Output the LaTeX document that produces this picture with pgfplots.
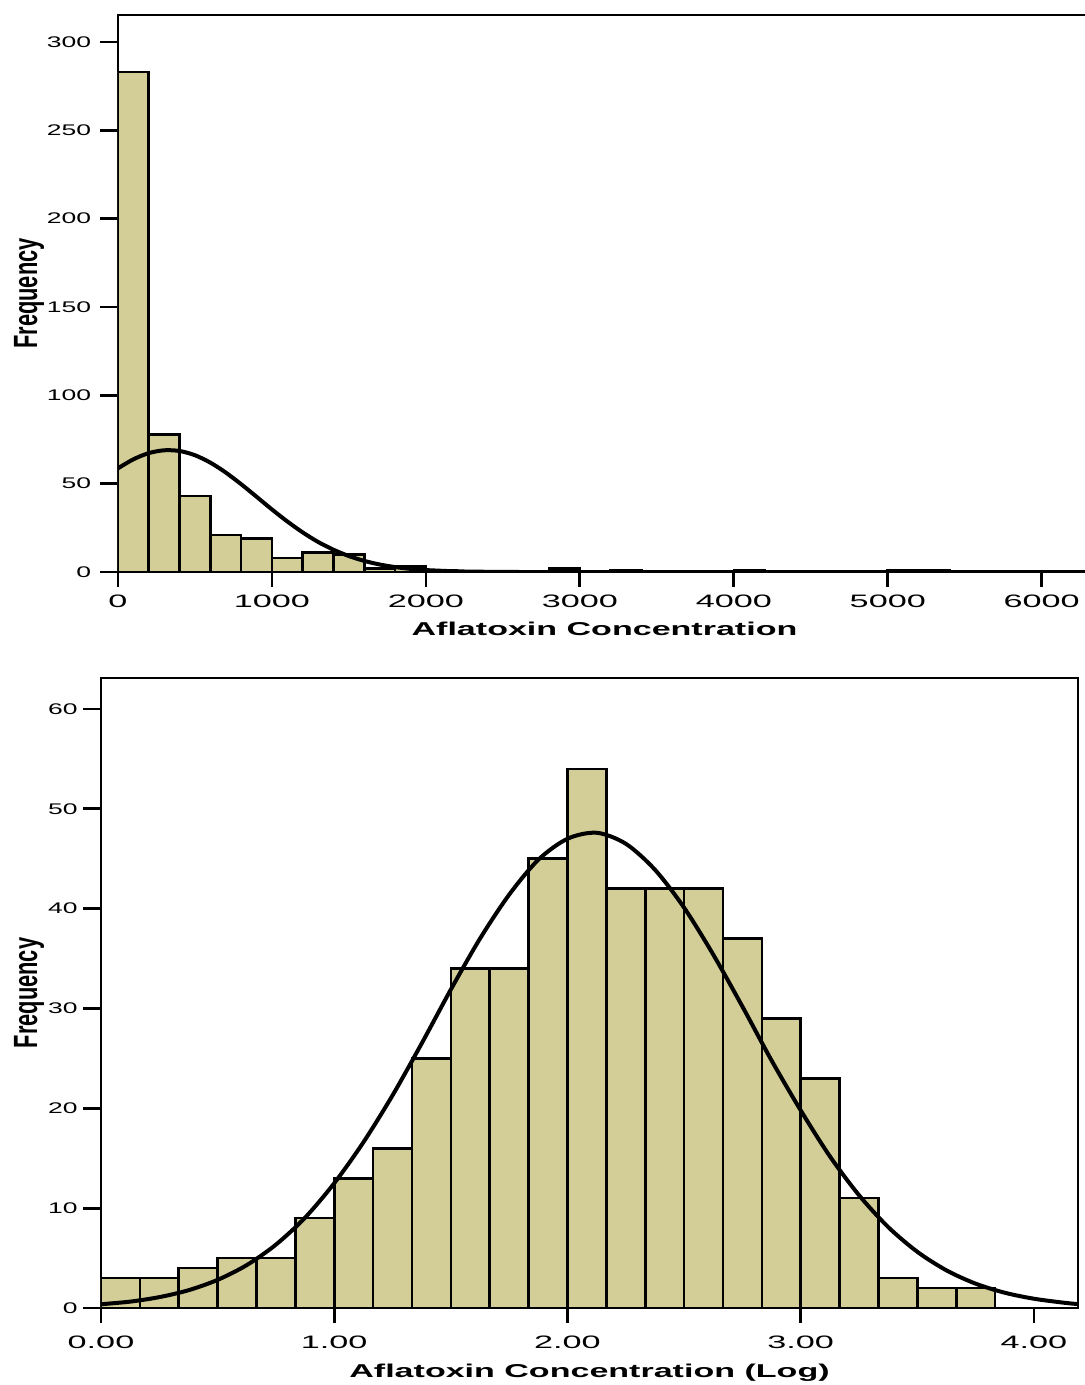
\documentclass[border=0pt]{standalone}
\usepackage{pgfplots}
\pgfplotsset{compat=1.18}
\usepackage{fontspec}
\setmainfont{Liberation Sans}
\usepackage{graphicx}
\definecolor{barfill}{RGB}{211,206,151}

% bins of the raw concentration (left edge, count); last row closes the interval
\pgfplotstableread{
x y
0 283
200 78
400 43
600 21
800 19
1000 8
1200 11
1400 10
1600 2
1800 3
2000 1
2200 0
2400 0
2600 0
2800 2
3000 0
3200 1
3400 0
3600 0
3800 0
4000 1
4200 0
4400 0
4600 0
4800 0
5000 1
5200 1
5400 0
}\rawbins

% bins of the log concentration, width 1/6
\pgfplotstableread{
x y
0.0000 3
0.1667 3
0.3333 4
0.5000 5
0.6667 5
0.8333 9
1.0000 13
1.1667 16
1.3333 25
1.5000 34
1.6667 34
1.8333 45
2.0000 54
2.1667 42
2.3333 42
2.5000 42
2.6667 37
2.8333 29
3.0000 23
3.1667 11
3.3333 3
3.5000 2
3.6667 2
3.8333 0
}\logbins

\pgfplotsset{
  spss/.style={
    scale only axis,
    axis line style={line width=1.4pt},
    tick style={line width=1.4pt, black},
    tick align=outside,
    xtick pos=bottom, ytick pos=left,
    minor tick num=0,
    xtick style={/pgfplots/major tick length=7.5pt},
    ytick style={/pgfplots/major tick length=9pt},
    /pgf/number format/assume math mode=true,
    /pgf/number format/1000 sep={},
    xticklabel style={anchor=base, inner sep=0pt},
    yticklabel style={anchor=east, inner sep=0pt},
    ylabel style={anchor=base},
    xlabel style={anchor=base},
    ylabel={\scalebox{0.65}[1]{\fontsize{16.8}{18}\selectfont\bfseries Frequency}},
  },
}

\begin{document}
\begin{tikzpicture}
\useasboundingbox (0,0) rectangle (542.5pt,-692.5pt);

\begin{axis}[spss,
  at={(59pt,-286pt)}, anchor=south west,
  width=486.5pt, height=278.5pt,
  xmin=0, xmax=6320, ymin=0, ymax=315.3,
  xtick={0,1000,...,6000}, ytick={0,50,...,300},
  xticklabel={\scalebox{1.9}[1]{\fontsize{9}{10}\selectfont\pgfmathprintnumber{\tick}}},
  yticklabel={\scalebox{1.72}[1]{\fontsize{7.7}{9}\selectfont\pgfmathprintnumber{\tick}}},
  xticklabel style={yshift=-13.5pt},
  yticklabel style={xshift=-9pt},
  xlabel={\scalebox{1.83}[1]{\fontsize{9.3}{11}\selectfont\bfseries Aflatoxin Concentration}},
  xlabel style={at={(axis description cs:0.5,0)}, yshift=-31.5pt},
  ylabel style={at={(axis description cs:-0.083,0.5)}},
]
\addplot[ybar interval, fill=barfill, draw=black, line width=1.3pt] table[x=x, y=y] {\rawbins};
\addplot[smooth, line width=2pt, black] coordinates {
(0,58.7) (100,63.8) (200,67.3) (300,68.9) (400,68.5) (500,66.1) (600,61.9)
(700,56.3) (800,49.7) (900,42.6) (1000,35.4) (1100,28.6) (1200,22.4)
(1300,17.0) (1400,12.6) (1500,9.02) (1600,6.28) (1700,4.24) (1800,2.78)
(1900,1.77) (2000,1.09) (2200,0.38) (2400,0.12) (2600,0.02) (2800,0) (6320,0)};
\end{axis}

\begin{axis}[spss,
  at={(50.5pt,-654pt)}, anchor=south west,
  width=488.5pt, height=315pt,
  xmin=0, xmax=4.189, ymin=0, ymax=63.1,
  xtick={0,1,2,3,4}, ytick={0,10,...,60},
  xticklabel={\scalebox{1.9}[1]{\fontsize{9}{10}\selectfont\pgfmathprintnumber[fixed,fixed zerofill,precision=2]{\tick}}},
  yticklabel={\scalebox{1.72}[1]{\fontsize{7.7}{9}\selectfont\pgfmathprintnumber{\tick}}},
  xticklabel style={yshift=-16pt},
  yticklabel style={xshift=-7.25pt},
  xlabel={\scalebox{1.83}[1]{\fontsize{9.3}{11}\selectfont\bfseries Aflatoxin Concentration (Log)}},
  xlabel style={at={(axis description cs:0.5,0)}, yshift=-34.5pt},
  ylabel style={at={(axis description cs:-0.0653,0.5)}},
]
\addplot[ybar interval, fill=barfill, draw=black, line width=1.3pt] table[x=x, y=y] {\logbins};
\addplot[smooth, line width=2pt, black] coordinates {
(0,0.38) (0.125,0.64) (0.25,1.09) (0.375,1.78) (0.5,2.82) (0.625,4.30)
(0.75,6.35) (0.875,9.05) (1.0,12.5) (1.125,16.6) (1.25,21.3) (1.375,26.5)
(1.5,31.9) (1.625,37.0) (1.75,41.4) (1.875,44.9) (2.0,47.0) (2.125,47.6)
(2.25,46.5) (2.375,43.9) (2.5,40.1) (2.625,35.4) (2.75,30.2) (2.875,24.8)
(3.0,19.8) (3.125,15.2) (3.25,11.3) (3.375,8.11) (3.5,5.63) (3.625,3.77)
(3.75,2.44) (3.875,1.53) (4.0,0.93) (4.125,0.54) (4.189,0.39)};
\end{axis}
\end{tikzpicture}
\end{document}
